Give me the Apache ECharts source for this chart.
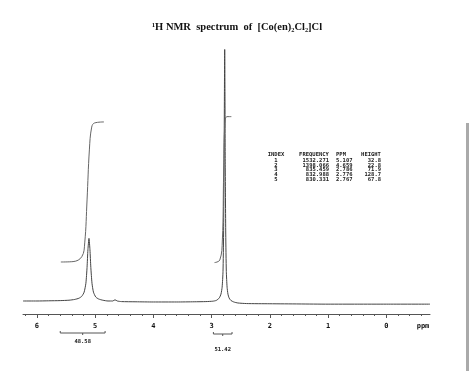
<!DOCTYPE html>
<html>
<head>
<meta charset="utf-8">
<script src="https://cdn.jsdelivr.net/npm/echarts@6/dist/echarts.min.js"></script>
<style>html,body{margin:0;padding:0;background:#fff;}#c{width:474px;height:371px;}</style>
</head>
<body>
<div id="c"></div>
<script>
// ---- data ----
const titleText = '\u00B9H NMR  spectrum  of  [Co(en)\u2082Cl\u2082]Cl';
const specPpm = [6.24, 6.0, 5.8, 5.6, 5.45, 5.35, 5.28, 5.23, 5.19, 5.16, 5.14, 5.125, 5.107, 5.09, 5.075, 5.055, 5.03, 4.99, 4.94, 4.87, 4.78, 4.70, 4.66, 4.62, 4.55, 4.3, 4.0, 3.6, 3.3, 3.1, 2.98, 2.92, 2.87, 2.84, 2.82, 2.805, 2.795, 2.786, 2.781, 2.776, 2.771, 2.767, 2.758, 2.748, 2.735, 2.72, 2.70, 2.67, 2.62, 2.55, 2.4, 2.0, 1.5, 1.0, 0.5, 0.0, -0.75];
const specInt = [1.0, 1.0, 1.1, 1.2, 1.4, 1.8, 2.4, 3.4, 5.5, 10, 18, 27, 32.8, 27, 18, 10, 5.5, 3.0, 2.0, 1.4, 1.0, 1.0, 1.6, 1.0, 0.7, 0.6, 0.5, 0.5, 0.6, 0.7, 0.9, 1.3, 2.5, 4.5, 8, 16, 35, 75, 105, 128.7, 105, 72, 35, 16, 8, 4.5, 2.5, 1.3, 0.5, 0.0, -0.3, -0.4, -0.5, -0.6, -0.6, -0.6, -0.6];
const integ1Ppm = [5.59, 5.38, 5.23, 5.18, 5.14, 5.10, 5.06, 5.01, 4.85];
const integ1Val = [20.8, 21.0, 23.5, 30.5, 52.3, 77.7, 89.3, 91.4, 91.9];
const integ2Ppm = [2.95, 2.86, 2.816, 2.794, 2.772, 2.737, 2.662];
const integ2Val = [20.5, 21.8, 32, 66, 91.4, 94.6, 94.6];
const integRanges = [[5.60, 4.83], [2.97, 2.65]];
const integLabels = ['48.58', '51.42'];
const tickValues = [0, 1, 2, 3, 4, 5, 6];
const tickLabels = ['0', '1', '2', '3', '4', '5', '6'];
const tableHeader = ['INDEX', 'FREQUENCY', 'PPM', 'HEIGHT'];
const tableIndex = ['1', '2', '3', '4', '5'];
const tableFreq = ['1532.271', '1398.066', '835.459', '832.988', '830.331'];
const tablePpm = ['5.107', '4.659', '2.786', '2.776', '2.767'];
const tableHeight = ['32.8', '22.8', '71.9', '128.7', '67.8'];

// ---- chart ----
const chart = echarts.init(document.getElementById('c'), null, {renderer: 'canvas'});
const pair = (xs, ys) => xs.map((x, i) => [x, ys[i]]);
const minorVals = [];
for (let k = -3; k <= 31; k++) { const v = +(k * 0.2).toFixed(1); if (Math.abs(v - Math.round(v)) > 1e-6) minorVals.push(v); }
const XMIN = -0.75, XMAX = 6.24;
const lineCol = '#555';
const mono = 'DejaVu Sans Mono';

chart.setOption({
  animation: false,
  backgroundColor: '#fff',
  title: {
    text: titleText, left: 'center', top: 17,
    textStyle: {fontFamily: 'Liberation Serif', fontWeight: 'bold', fontSize: 10.5, color: '#111'}
  },
  grid: {left: 23, right: 44, top: 40, bottom: 57},
  xAxis: [{
    type: 'value', inverse: true, min: XMIN, max: XMAX,
    splitLine: {show: false},
    axisLine: {onZero: false, lineStyle: {color: lineCol, width: 1}},
    axisTick: {show: true, length: 4, customValues: tickValues, lineStyle: {color: lineCol}},
    axisLabel: {customValues: tickValues, margin: 9, fontFamily: mono, fontWeight: 'bold', fontSize: 7, color: '#111',
      formatter: v => tickLabels[tickValues.indexOf(Math.round(v))] }
  }, {
    type: 'value', inverse: true, min: XMIN, max: XMAX, position: 'bottom', offset: 0,
    splitLine: {show: false},
    axisLine: {show: false, onZero: false},
    axisTick: {show: true, length: 2, customValues: minorVals, lineStyle: {color: lineCol}},
    axisLabel: {show: false}
  }],
  yAxis: {type: 'value', show: false, min: -5.6, max: 133.5, splitLine: {show: false}},
  series: [
    {type: 'line', data: pair(specPpm, specInt), showSymbol: false, smooth: 0.2,
      lineStyle: {color: '#444', width: 1}, z: 3},
    {type: 'line', data: pair(integ1Ppm, integ1Val), showSymbol: false, smooth: 0.4,
      lineStyle: {color: '#666', width: 1}},
    {type: 'line', data: pair(integ2Ppm, integ2Val), showSymbol: false, smooth: 0.4,
      lineStyle: {color: '#666', width: 1}}
  ]
});

// ---- annotations ----
const g = [];
// peak table
const colX = [{x: 276, align: 'center'}, {x: 329, align: 'right'}, {x: 336, align: 'left'}, {x: 381, align: 'right'}];
const headX = [{x: 276, align: 'center'}, {x: 314, align: 'center'}, {x: 341, align: 'center'}, {x: 371, align: 'center'}];
const tStyle = {fontFamily: mono, fontWeight: 'bold', fontSize: 5.5, fill: '#222', verticalAlign: 'middle'};
tableHeader.forEach((h, i) => g.push({type: 'text', x: headX[i].x, y: 155, style: Object.assign({text: h, align: headX[i].align}, tStyle)}));
const cols = [tableIndex, tableFreq, tablePpm, tableHeight];
tableIndex.forEach((_, r) => {
  cols.forEach((col, c) => g.push({type: 'text', x: colX[c].x, y: 160.3 + r * 4.8, style: Object.assign({text: col[r], align: colX[c].align}, tStyle)}));
});
// integration brackets
const bY = [333, 334], lY = [342, 350];
integRanges.forEach((rg, i) => {
  const x1 = chart.convertToPixel({xAxisIndex: 0}, rg[0]);
  const x2 = chart.convertToPixel({xAxisIndex: 0}, rg[1]);
  const xm = (x1 + x2) / 2, y = bY[i];
  const ls = {stroke: '#555', lineWidth: 1};
  g.push({type: 'line', shape: {x1: x1, y1: y, x2: x2, y2: y}, style: ls});
  g.push({type: 'line', shape: {x1: x1, y1: y, x2: x1, y2: y - 2}, style: ls});
  g.push({type: 'line', shape: {x1: x2, y1: y, x2: x2, y2: y - 2}, style: ls});
  g.push({type: 'line', shape: {x1: xm, y1: y, x2: xm, y2: y + 2}, style: ls});
  g.push({type: 'text', x: xm, y: lY[i], style: {text: integLabels[i], align: 'center', verticalAlign: 'middle', fontFamily: mono, fontWeight: 'bold', fontSize: 5.5, fill: '#222'}});
});
// axis unit
g.push({type: 'text', x: 423, y: 326, style: {text: 'ppm', align: 'center', verticalAlign: 'middle', fontFamily: mono, fontWeight: 'bold', fontSize: 7, fill: '#111'}});
// gray scroll bar at right edge
g.push({type: 'rect', shape: {x: 466, y: 123, width: 3, height: 248}, style: {fill: '#aaa'}});
chart.setOption({graphic: g});
</script>
</body>
</html>
